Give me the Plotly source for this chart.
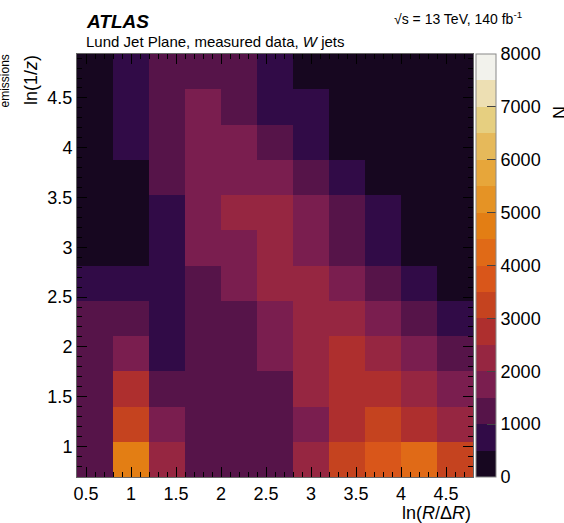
import plotly.graph_objects as go

# Bin edges
x_edges = [0.4, 0.8, 1.2, 1.6, 2.0, 2.4, 2.8, 3.2, 3.6, 4.0, 4.4, 4.8]
y_edges = [0.693, 1.047, 1.401, 1.755, 2.109, 2.463, 2.817, 3.171, 3.525, 3.879, 4.233, 4.587, 4.941]

# Counts, rows from bottom (low ln(1/z)) to top
z_row0 = [1300, 4700, 2300, 1200, 1250, 1350, 2200, 3300, 3800, 4300, 3200]
z_row1 = [1250, 3300, 1800, 1150, 1200, 1300, 1900, 2800, 3200, 2900, 2200]
z_row2 = [1200, 2600, 1450, 1200, 1250, 1300, 2300, 2850, 2700, 2300, 1800]
z_row3 = [1200, 1800, 900, 1250, 1300, 1700, 2200, 2600, 2300, 1800, 1300]
z_row4 = [1250, 1200, 850, 1300, 1350, 1800, 2300, 2250, 1750, 1300, 800]
z_row5 = [800, 750, 700, 1300, 1800, 2200, 2150, 1700, 1200, 700, 400]
z_row6 = [300, 350, 650, 1700, 1850, 2100, 1700, 1100, 650, 300, 200]
z_row7 = [250, 300, 700, 1800, 2100, 2050, 1600, 1050, 600, 250, 150]
z_row8 = [250, 350, 1100, 1800, 1750, 1650, 1100, 600, 300, 150, 100]
z_row9 = [300, 600, 1200, 1700, 1600, 1100, 650, 350, 150, 100, 50]
z_row10 = [300, 650, 1250, 1650, 1200, 700, 550, 250, 100, 50, 50]
z_row11 = [250, 600, 1150, 1200, 1100, 650, 300, 150, 100, 50, 50]
z = [z_row0, z_row1, z_row2, z_row3, z_row4, z_row5, z_row6, z_row7,
     z_row8, z_row9, z_row10, z_row11]

x_ticks = [0.5, 1, 1.5, 2, 2.5, 3, 3.5, 4, 4.5]
x_ticktext = ["0.5", "1", "1.5", "2", "2.5", "3", "3.5", "4", "4.5"]
y_ticks = [1, 1.5, 2, 2.5, 3, 3.5, 4, 4.5]
y_ticktext = ["1", "1.5", "2", "2.5", "3", "3.5", "4", "4.5"]
cb_ticks = [0, 1000, 2000, 3000, 4000, 5000, 6000, 7000, 8000]

band_colors = ["#170720", "#310b47", "#561449", "#7a1e4f", "#962641", "#ae2f2e",
               "#c5431f", "#d9561a", "#e06a17", "#e37e14", "#e59325", "#e7a63a",
               "#e6b95a", "#e6cf80", "#eddfb3", "#f2f2ec"]
n = len(band_colors)
colorscale = []
for k, c in enumerate(band_colors):
    colorscale.append([k / n, c])
    colorscale.append([(k + 1) / n, c])

FONT = "Liberation Sans, Arial, Helvetica, sans-serif"

W, H = 564, 523
L, R, T, B = 77, 91, 54, 46
pw, ph = W - L - R, H - T - B


def px(xp):
    return (xp - L) / pw


def py(yp):
    return (H - B - yp) / ph


fig = go.Figure(go.Heatmap(
    x=x_edges, y=y_edges, z=z,
    zmin=0, zmax=8000,
    colorscale=colorscale,
    colorbar=dict(
        x=px(476), xanchor="left", xpad=0,
        y=0, yanchor="bottom", len=1, lenmode="fraction", ypad=0,
        thickness=20, thicknessmode="pixels",
        outlinecolor="#888", outlinewidth=1,
        tickvals=cb_ticks, ticks="inside", ticklen=9, tickcolor="#444",
        tickfont=dict(family=FONT, size=18, color="black"),
    ),
))

fig.update_xaxes(
    range=[0.4, 4.8], tickvals=x_ticks, ticktext=x_ticktext,
    ticks="inside", ticklen=10, tickcolor="black",
    showline=True, linecolor="#666", linewidth=1, mirror="ticks",
    minor=dict(dtick=0.1, ticks="inside", ticklen=5, tickcolor="black"),
    tickfont=dict(family=FONT, size=18, color="black"),
    showgrid=False, zeroline=False,
)
fig.update_yaxes(
    range=[0.693, 4.941], tickvals=y_ticks, ticktext=y_ticktext,
    ticks="inside", ticklen=10, tickcolor="black",
    showline=True, linecolor="#666", linewidth=1, mirror="ticks",
    minor=dict(dtick=0.1, ticks="inside", ticklen=5, tickcolor="black"),
    tickfont=dict(family=FONT, size=18, color="black"),
    showgrid=False, zeroline=False,
)

annotations = [
    dict(text="<b><i>ATLAS</i></b>", x=px(84), y=py(21), xanchor="left", yanchor="middle",
         font=dict(family=FONT, size=19, color="black")),
    dict(text="Lund Jet Plane, measured data, <i>W</i> jets", x=px(84), y=py(41),
         xanchor="left", yanchor="middle", font=dict(family=FONT, size=15, color="black")),
    dict(text="√s = 13 TeV, 140 fb<sup>-1</sup>", x=px(524), y=py(18),
         xanchor="right", yanchor="middle", font=dict(family=FONT, size=14, color="black")),
    dict(text="ln(<i>R</i>/Δ<i>R</i>)", x=px(473), y=py(513), xanchor="right", yanchor="middle",
         font=dict(family=FONT, size=18, color="black")),
    dict(text="ln(1/<i>z</i>)", x=px(31), y=py(53), xanchor="center", yanchor="top",
         textangle=-90, font=dict(family=FONT, size=18, color="black")),
    dict(text="emissions", x=px(4), y=py(53), xanchor="center", yanchor="top",
         textangle=-90, font=dict(family=FONT, size=12, color="black")),
    dict(text="N", x=px(560), y=py(113), xanchor="center", yanchor="middle",
         textangle=-90, font=dict(family=FONT, size=18, color="black")),
]
for a in annotations:
    a.update(xref="paper", yref="paper", showarrow=False)

fig.update_layout(
    width=W, height=H,
    margin=dict(l=L, r=R, t=T, b=B, autoexpand=False),
    paper_bgcolor="white", plot_bgcolor="white",
    annotations=annotations,
    font=dict(family=FONT, color="black"),
)

fig.write_html("out.html")
